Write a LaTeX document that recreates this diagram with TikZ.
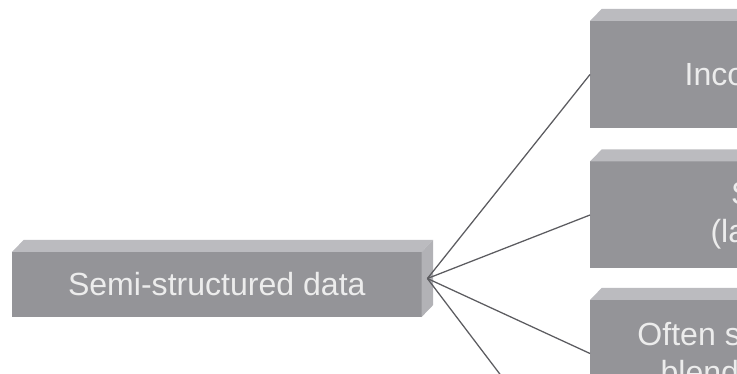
\documentclass[tikz,border=0pt]{standalone}
\usepackage{fontspec}
\setmainfont{Liberation Sans}
\usetikzlibrary{calc}
\definecolor{frontgray}{RGB}{148,148,152}
\definecolor{topgray}{RGB}{187,187,191}
\definecolor{sidegray}{RGB}{178,178,182}
\definecolor{linkgray}{RGB}{92,92,96}
\definecolor{labelwhite}{RGB}{236,236,236}
\tikzset{
    % Define front face of a block
    slab/.style={
           rectangle,
           fill=frontgray,
           text=labelwhite,
           inner sep=0pt,
           align=center,
           font=\fontsize{22.8pt}{27pt}\selectfont},
    % Define connecting line
    link/.style={
           draw=linkgray,
           line width=0.9pt}
}
% top and right faces of a block
\newcommand{\slabfaces}[1]{%
  \fill[topgray] (#1.north west) -- ++(0.29,0.3) -- ($(#1.north east)+(0.29,0.3)$) -- (#1.north east) -- cycle;
  \fill[sidegray] (#1.north east) -- ++(0.29,0.3) -- ($(#1.south east)+(0.29,0.3)$) -- (#1.south east) -- cycle;
}

\begin{document}
\begin{tikzpicture}[outer sep = 0pt]

%%%%%%%%%%%%%%%%%%%%%%%%%%%%%%%%%

\useasboundingbox (0,0) rectangle (18.425,9.325);
\clip (0,0) rectangle (18.425,9.325);

% left block
\node [slab, minimum width=10.24cm, minimum height=1.625cm] (semi) at (5.42,2.2125) {Semi-structured data};
\slabfaces{semi}

% right blocks
\node [slab, minimum width=12.35cm, minimum height=2.675cm] (incons) at (20.925,7.4625) {Inconsistent structure};
\node [slab, minimum width=12.35cm, minimum height=2.675cm] (selfdesc) at (20.925,3.95) {Self-describing\\(label/value pairs)};
\node [slab, minimum width=12.35cm, minimum height=2.675cm] (blended) at (20.925,0.4875) {Often schema information is\\blended with data values};
\slabfaces{incons}
\slabfaces{selfdesc}
\slabfaces{blended}

% hub on the side face, next block further down
\coordinate (hub) at ($(semi.east)+(0.145,0.15)$);
\coordinate (attr) at (14.75,-3.0);

% links
\draw [link] (hub) -- (incons.west);
\draw [link] (hub) -- (selfdesc.west);
\draw [link] (hub) -- (blended.west);
\draw [link] (hub) -- (attr);

\end{tikzpicture}
\end{document}
